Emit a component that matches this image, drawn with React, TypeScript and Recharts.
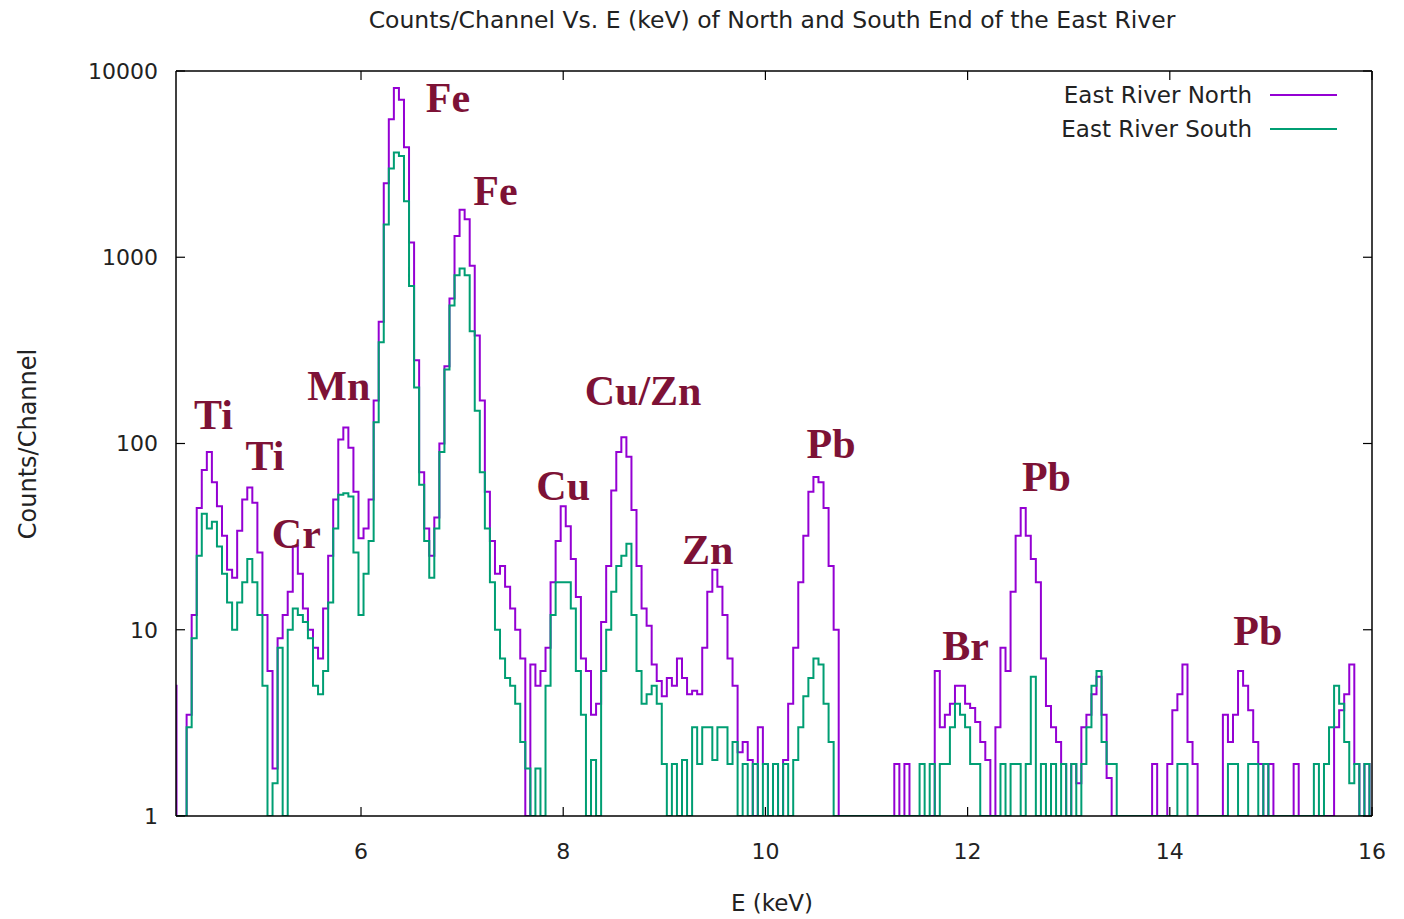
import React from 'react';
import { LineChart, Line, XAxis, YAxis, ReferenceDot } from 'recharts';

// first channel energy and channel width (keV)
const E_START = 4.15;
const E_STEP = 0.05;

// counts/channel, 20 channels (1 keV) per row
const NORTH_COUNTS = [
  5, 1, 1, 3.5, 12, 45, 72, 90, 62, 46, 32, 21, 19, 34, 50, 58, 48, 26, 12, 6,
  1.8, 9, 12, 16, 28, 20, 13, 10, 8, 7, 13, 25, 50, 105, 122, 95, 55, 31, 35, 50,
  170, 450, 2500, 5500, 8100, 7000, 3900, 1200, 280, 70, 35, 25, 40, 100, 260, 600, 1300, 1800, 1600, 900,
  380, 170, 55, 30, 20, 22, 17, 13, 10, 7, 1, 6.5, 5, 6, 8, 18, 30, 46, 36, 24,
  15, 7, 6, 3.5, 4, 11, 22, 56, 90, 108, 85, 44, 22, 13, 10.5, 6.5, 5.3, 4.4, 5.5, 5,
  7, 5.5, 4.5, 4.7, 4.5, 8, 16, 21, 17, 12, 7, 5, 2.2, 2.5, 2, 1, 3, 1.9, 1, 1.9,
  1, 2, 4, 8, 18, 32, 55, 66, 62, 45, 22, 10, 1, 1, 1, 1, 1, 1, 1, 1,
  1, 1, 1, 1.9, 1, 1.9, 1, 1, 1, 1, 1, 6, 3, 3.5, 4, 5, 5, 4, 3.8, 3.2,
  2.5, 2, 1, 3, 8, 6, 16, 32, 45, 32, 24, 18, 7, 3.9, 3, 2.5, 1.9, 1, 1.9, 1.5,
  3, 3.5, 4.5, 5.6, 3.5, 1.6, 1, 1, 1, 1, 1, 1, 1, 1, 1.9, 1, 1, 1.9, 3.7, 4.5,
  6.5, 2.5, 1.9, 1, 1, 1, 1, 1, 3.5, 2.5, 3.5, 6, 5, 3.7, 2.5, 1.9, 1, 1.9, 1, 1,
  1, 1, 1.9, 1, 1, 1, 1, 1, 1, 1, 3, 3.7, 4.5, 6.5, 1.9, 1, 1.9, 1,
];

const SOUTH_COUNTS = [
  1, 1, 1, 3, 9, 25, 42, 35, 38, 28, 20, 14, 10, 14, 18, 24, 18, 12, 5, 1,
  1.5, 8, 1, 10, 13, 12, 11, 9, 5, 4.5, 6, 14, 35, 53, 54, 52, 26, 12, 20, 30,
  130, 350, 1500, 3000, 3650, 3500, 2000, 700, 200, 60, 30, 19, 35, 90, 250, 550, 800, 870, 800, 400,
  150, 70, 35, 18, 10, 7, 5.5, 5, 4, 2.5, 1.8, 1, 1.8, 1, 5, 12, 18, 18, 18, 13,
  6, 3.5, 1, 2, 1, 6, 10, 16, 22, 25, 29, 12, 6, 4, 4.5, 5, 4, 1.9, 1, 1.9,
  1, 2, 1, 3, 1.9, 3, 3, 2, 3, 3, 1.9, 2.5, 1, 1.9, 1, 1.9, 1, 1.9, 1, 1.9,
  1, 1.9, 1, 2, 3, 4.4, 5.5, 7, 6.5, 4, 2.5, 1, 1, 1, 1, 1, 1, 1, 1, 1,
  1, 1, 1, 1, 1, 1, 1, 1, 1.9, 1, 1.9, 1, 1.9, 1.9, 3, 4, 3.5, 3, 1.9, 1.9,
  1, 1, 1, 1, 1.9, 1, 1.9, 1.9, 1, 1.9, 5.6, 1, 1.9, 1, 1.9, 1, 1.9, 1, 1.9, 1,
  1.9, 3, 5, 6, 2.5, 1.9, 1.9, 1, 1, 1, 1, 1, 1, 1, 1, 1, 1, 1, 1, 1.9,
  1.9, 1, 1, 1, 1, 1, 1, 1, 1, 1.9, 1.9, 1, 1, 1.9, 1.9, 1, 1.9, 1, 1, 1,
  1, 1, 1, 1, 1, 1, 1.9, 1, 1.9, 3, 5, 4, 2.5, 1.5, 1.9, 1, 1.9, 1,
];

const X_TICKS = [6, 8, 10, 12, 14, 16];
const Y_TICKS = [1, 10, 100, 1000, 10000];

// element annotations: name, energy and count level of the label centre
const PEAK_NAMES = ['Ti', 'Ti', 'Cr', 'Mn', 'Fe', 'Fe', 'Cu', 'Cu/Zn', 'Zn', 'Pb', 'Br', 'Pb', 'Pb'];
const PEAK_LABEL_E = [4.54, 5.05, 5.36, 5.78, 6.86, 7.33, 8.0, 8.79, 9.43, 10.65, 11.98, 12.78, 14.87];
const PEAK_LABEL_COUNTS = [144, 87, 33, 206, 7250, 2300, 60, 194, 27, 100, 8.3, 67, 10];

const SERIES = [
  { key: 'north', name: 'East River North', color: '#9400D3' },
  { key: 'south', name: 'East River South', color: '#009E73' },
];

const W = 1390;
const H = 908;
const TEXT = '#222';
const SANS = '"DejaVu Sans", Verdana, sans-serif';
const LABEL_RED = '#7d1236';

const data = NORTH_COUNTS.map((n, i) => ({
  e: Number((E_START + i * E_STEP).toFixed(2)),
  north: n,
  south: SOUTH_COUNTS[i],
}));

function BottomTick({ x, y, payload }: any) {
  return (
    <g>
      <line x1={x} y1={y} x2={x} y2={y - 9} stroke="#000" strokeWidth={1.2} />
      <text x={x} y={y + 43} textAnchor="middle" fill={TEXT} fontSize={22} fontFamily={SANS}>
        {payload.value}
      </text>
    </g>
  );
}

function TopTick({ x, y }: any) {
  return <line x1={x} y1={y} x2={x} y2={y + 9} stroke="#000" strokeWidth={1.2} />;
}

function LeftTick({ x, y, payload }: any) {
  return (
    <g>
      <line x1={x} y1={y} x2={x + 9} y2={y} stroke="#000" strokeWidth={1.2} />
      <text x={x - 18} y={y} dy="0.36em" textAnchor="end" fill={TEXT} fontSize={22} fontFamily={SANS}>
        {payload.value}
      </text>
    </g>
  );
}

function RightTick({ x, y }: any) {
  return <line x1={x} y1={y} x2={x - 9} y2={y} stroke="#000" strokeWidth={1.2} />;
}

export default function App() {
  return (
    <div style={{ position: 'relative', width: W, height: H, fontFamily: SANS, color: TEXT }}>
      <div
        style={{
          position: 'absolute',
          left: 764,
          top: 0,
          transform: 'translateX(-50%)',
          whiteSpace: 'nowrap',
          fontSize: 23.5,
          lineHeight: '24px',
        }}
      >
        Counts/Channel Vs. E (keV) of North and South End of the East River
      </div>

      <LineChart width={W} height={H} data={data} margin={{ top: 62, right: 25, bottom: 0, left: 88 }}>
        <XAxis
          xAxisId="bottom"
          dataKey="e"
          type="number"
          domain={[4.17, 16]}
          allowDataOverflow
          ticks={X_TICKS}
          interval={0}
          height={100}
          tickSize={0}
          tickMargin={0}
          tickLine={false}
          tick={<BottomTick />}
          axisLine={{ stroke: '#000', strokeWidth: 1.5 }}
        />
        <XAxis
          xAxisId="top"
          orientation="top"
          dataKey="e"
          type="number"
          domain={[4.17, 16]}
          allowDataOverflow
          ticks={X_TICKS}
          interval={0}
          height={1}
          tickSize={0}
          tickMargin={0}
          tickLine={false}
          tick={<TopTick />}
          axisLine={{ stroke: '#000', strokeWidth: 1.5 }}
        />
        <YAxis
          yAxisId="left"
          scale="log"
          type="number"
          domain={[1, 10000]}
          allowDataOverflow
          ticks={Y_TICKS}
          interval={0}
          width={80}
          tickSize={0}
          tickMargin={0}
          tickLine={false}
          tick={<LeftTick />}
          axisLine={{ stroke: '#000', strokeWidth: 1.5 }}
        />
        <YAxis
          yAxisId="right"
          orientation="right"
          scale="log"
          type="number"
          domain={[1, 10000]}
          allowDataOverflow
          ticks={Y_TICKS}
          interval={0}
          width={1}
          tickSize={0}
          tickMargin={0}
          tickLine={false}
          tick={<RightTick />}
          axisLine={{ stroke: '#000', strokeWidth: 1.5 }}
        />
        {SERIES.map((s) => (
          <Line
            key={s.key}
            xAxisId="bottom"
            yAxisId="left"
            dataKey={s.key}
            name={s.name}
            type="step"
            stroke={s.color}
            strokeWidth={2}
            dot={false}
            activeDot={false}
            isAnimationActive={false}
          />
        ))}
        {PEAK_NAMES.map((name, i) => (
          <ReferenceDot
            key={`${name}-${i}`}
            xAxisId="bottom"
            yAxisId="left"
            x={PEAK_LABEL_E[i]}
            y={PEAK_LABEL_COUNTS[i]}
            r={0}
            fill="none"
            stroke="none"
            label={{
              value: name,
              position: 'center',
              fill: LABEL_RED,
              fontSize: 42,
              fontWeight: 'bold',
              fontFamily: '"Liberation Serif", "Times New Roman", serif',
            }}
          />
        ))}
      </LineChart>

      <div style={{ position: 'absolute', left: 1000, top: 70, width: 329 }}>
        {SERIES.map((s) => (
          <div
            key={s.key}
            style={{ display: 'flex', justifyContent: 'flex-end', alignItems: 'center', height: 34, fontSize: 23 }}
          >
            <span style={{ whiteSpace: 'nowrap' }}>{s.name}</span>
            <span style={{ display: 'inline-block', width: 67, marginLeft: 18, borderTop: `2px solid ${s.color}` }} />
          </div>
        ))}
      </div>

      <div
        style={{
          position: 'absolute',
          left: 20,
          top: 436,
          transform: 'translate(-50%, -50%) rotate(-90deg)',
          whiteSpace: 'nowrap',
          fontSize: 24,
        }}
      >
        Counts/Channel
      </div>

      <div
        style={{
          position: 'absolute',
          left: 764,
          top: 882,
          transform: 'translateX(-50%)',
          whiteSpace: 'nowrap',
          fontSize: 23,
          lineHeight: '26px',
        }}
      >
        E (keV)
      </div>
    </div>
  );
}
